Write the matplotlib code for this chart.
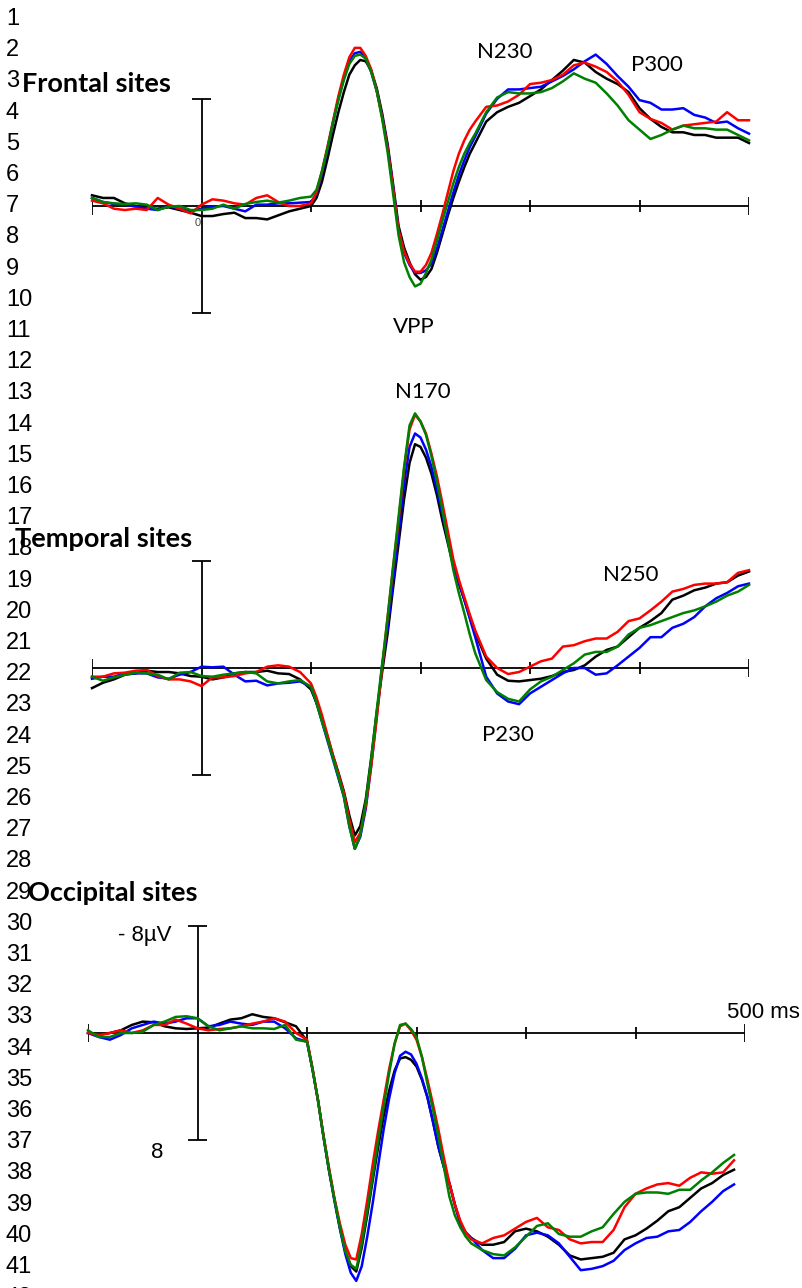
import matplotlib
matplotlib.use("Agg")
import matplotlib.pyplot as plt

# time grid (ms): 10 ms steps, 5 ms steps through the fast components
times = list(range(-100, 100, 10)) + list(range(100, 250, 5)) + list(range(250, 510, 10))
times_occ = list(range(-100, 100, 10)) + list(range(100, 250, 5)) + list(range(250, 500, 10))

# amplitudes in microvolts (negative plotted up)
frontal_red = [-0.4, -0.2, 0.2, 0.3, 0.2, 0.3, -0.6, -0.1, 0.2, 0.55, -0.1, -0.5, -0.4, -0.2, -0.1, -0.6, -0.8, -0.3, 0.0, 0.0,
               -0.2, -1.0, -2.6, -4.4, -6.3, -8.2, -9.8, -11.1, -11.8, -11.8, -11.2, -10.2, -8.6, -6.6, -4.3,
               -1.3, 1.8, 3.4, 4.3, 4.9, 4.9, 4.4, 3.5, 2.1, 0.6, -1.0, -2.6, -3.9, -4.9, -5.7,
               -6.3, -7.4, -7.5, -7.8, -8.3, -9.1, -9.2, -9.4, -9.8, -10.5, -10.7, -10.4, -10.0, -9.3, -8.3, -7.0,
               -6.5, -6.2, -5.7, -6.0, -6.1, -6.2, -6.3, -7.0, -6.4, -6.4]
frontal_blue = [-0.6, -0.3, -0.15, -0.1, 0.05, 0.2, 0.3, 0.0, 0.2, 0.4, 0.2, 0.05, 0.0, 0.2, 0.4, -0.1, -0.1, -0.2, -0.2, -0.25,
                -0.3, -0.9, -2.4, -4.2, -6.2, -8.0, -9.5, -10.8, -11.4, -11.5, -11.0, -10.0, -8.6, -6.7, -4.4,
                -1.4, 1.8, 3.5, 4.4, 5.0, 5.0, 4.8, 4.3, 3.2, 1.8, 0.4, -1.0, -2.3, -3.4, -4.4,
                -5.2, -6.9, -8.0, -8.7, -8.7, -8.8, -8.9, -9.3, -9.7, -10.2, -10.8, -11.3, -10.6, -9.7, -8.9, -7.9,
                -7.7, -7.2, -7.2, -7.3, -6.8, -6.6, -6.2, -6.3, -5.8, -5.4]
frontal_green = [-0.6, -0.3, -0.2, -0.15, -0.2, -0.1, 0.3, 0.05, 0.0, 0.3, 0.3, 0.2, -0.1, 0.2, -0.15, -0.3, -0.4, -0.25, -0.4, -0.6,
                 -0.7, -1.2, -2.6, -4.3, -6.2, -7.9, -9.4, -10.6, -11.2, -11.3, -11.0, -10.0, -8.6, -6.5, -4.0,
                 -0.9, 2.2, 4.2, 5.3, 6.0, 5.8, 5.0, 4.0, 2.6, 1.1, -0.3, -1.7, -2.9, -3.9, -4.7,
                 -5.4, -7.0, -8.1, -8.5, -8.4, -8.4, -8.5, -8.8, -9.3, -9.9, -9.5, -9.2, -8.4, -7.5, -6.4, -5.7,
                 -5.0, -5.3, -5.7, -6.0, -5.8, -5.8, -5.7, -5.7, -5.3, -4.9]
frontal_black = [-0.8, -0.6, -0.6, -0.2, 0.0, 0.2, 0.2, 0.1, 0.3, 0.5, 0.75, 0.75, 0.6, 0.5, 0.9, 0.9, 1.0, 0.7, 0.4, 0.2,
                 0.0, -0.6, -1.8, -3.5, -5.3, -7.0, -8.5, -9.8, -10.5, -10.9, -10.8, -10.1, -8.8, -6.9, -4.6,
                 -1.6, 1.5, 3.1, 4.2, 5.1, 5.5, 5.3, 4.7, 3.5, 2.1, 0.7, -0.6, -1.8, -2.9, -3.9,
                 -4.7, -6.3, -7.0, -7.4, -7.7, -8.2, -8.7, -9.4, -10.1, -10.9, -10.7, -10.0, -9.5, -9.1, -8.5, -7.3,
                 -6.5, -5.9, -5.5, -5.5, -5.3, -5.3, -5.1, -5.1, -5.1, -4.7]

temporal_red = [0.65, 0.65, 0.4, 0.35, 0.2, 0.15, 0.6, 0.85, 0.85, 1.0, 1.35, 0.7, 0.7, 0.6, 0.4, 0.3, -0.1, -0.2, -0.1, 0.3,
                1.15, 2.2, 3.5, 5.0, 6.5, 7.9, 9.3, 11.3, 13.0, 12.3, 10.3, 7.3, 3.8, 0.0, -3.8,
                -7.5, -11.0, -14.8, -17.8, -18.9, -18.4, -17.5, -16.0, -14.3, -12.3, -10.2, -8.1, -6.6, -5.3, -4.0,
                -2.8, -0.85, 0.0, 0.45, 0.3, -0.1, -0.5, -0.7, -1.6, -1.7, -2.0, -2.2, -2.2, -2.7, -3.5, -3.7,
                -4.3, -4.95, -5.7, -5.9, -6.2, -6.3, -6.3, -6.4, -7.1, -7.3]
temporal_blue = [0.8, 0.65, 0.65, 0.4, 0.4, 0.4, 0.7, 0.8, 0.5, 0.3, -0.1, -0.05, -0.1, 0.5, 1.0, 0.95, 1.3, 1.15, 1.1, 1.0,
                 1.4, 2.6, 4.0, 5.4, 6.8, 8.2, 9.6, 11.8, 13.5, 12.6, 10.5, 7.3, 3.6, -0.2, -3.0,
                 -6.5, -10.0, -13.7, -16.5, -17.5, -17.2, -16.3, -15.0, -13.3, -11.5, -9.6, -7.8, -6.4, -5.1, -3.7,
                 -2.3, 0.65, 1.9, 2.5, 2.7, 1.9, 1.4, 0.9, 0.4, 0.0, 0.0, 0.5, 0.4, -0.2, -0.85, -1.5,
                 -2.3, -2.3, -3.0, -3.3, -3.8, -4.6, -5.2, -5.6, -6.1, -6.3]
temporal_green = [0.65, 0.95, 0.7, 0.5, 0.35, 0.4, 0.5, 0.85, 0.35, 0.3, 0.6, 0.65, 0.5, 0.4, 0.3, 0.4, 1.0, 1.15, 1.0, 0.9,
                  1.4, 2.6, 4.0, 5.3, 6.7, 8.1, 9.6, 11.8, 13.5, 12.5, 10.0, 6.8, 3.2, -0.3, -3.8,
                  -7.6, -11.3, -15.0, -18.1, -19.0, -18.4, -17.4, -15.8, -13.9, -11.8, -9.5, -7.3, -5.6, -4.1, -2.5,
                  -1.1, 0.9, 1.8, 2.3, 2.5, 1.6, 1.0, 0.65, 0.15, -0.35, -1.0, -1.2, -1.2, -1.6, -2.5, -3.0,
                  -3.2, -3.5, -3.8, -4.1, -4.3, -4.6, -4.95, -5.4, -5.7, -6.2]
temporal_black = [1.5, 1.1, 0.85, 0.5, 0.4, 0.2, 0.3, 0.3, 0.4, 0.6, 0.65, 0.85, 0.7, 0.4, 0.3, 0.3, 0.2, 0.4, 0.45, 0.85,
                  1.6, 2.6, 3.8, 5.1, 6.5, 7.8, 9.2, 11.0, 12.5, 11.8, 9.8, 6.7, 3.3, 0.3, -2.6,
                  -6.0, -9.3, -12.6, -15.3, -16.7, -16.5, -15.7, -14.5, -12.9, -11.0, -9.3, -7.6, -6.3, -5.1, -3.8,
                  -2.6, -0.7, 0.5, 0.95, 1.0, 0.9, 0.8, 0.6, 0.3, 0.15, -0.2, -0.85, -1.35, -1.6, -2.3, -3.0,
                  -3.5, -4.1, -5.1, -5.4, -5.8, -6.0, -6.3, -6.4, -6.9, -7.2]

occipital_red = [0.0, 0.15, 0.0, -0.2, 0.0, -0.2, -0.6, -0.6, -1.0, -0.7, -0.35, -0.2, -0.3, -0.35, -0.5, -0.7, -0.85, -1.1, -0.85, 0.0,
                 0.5, 2.6, 5.0, 7.6, 10.0, 12.3, 14.2, 15.8, 16.8, 16.9, 15.0, 12.5, 9.8, 7.3, 5.0,
                 2.7, 0.8, -0.5, -0.7, -0.2, 0.5, 1.8, 3.5, 5.3, 7.2, 9.3, 11.2, 12.8, 14.0, 14.9,
                 15.4, 15.7, 15.3, 15.1, 14.6, 14.1, 13.8, 14.5, 14.7, 15.4, 15.7, 15.6, 15.6, 14.7, 13.0, 12.0,
                 11.6, 11.3, 11.2, 11.4, 10.8, 10.4, 10.5, 10.4, 9.5]
occipital_blue = [0.0, 0.3, 0.5, 0.15, -0.35, -0.6, -0.85, -0.7, -0.85, -1.1, -1.1, -0.5, -0.6, -0.85, -0.7, -0.6, -0.85, -0.85, -0.35, 0.4,
                  0.65, 2.7, 5.0, 7.7, 10.2, 12.5, 14.6, 16.5, 17.9, 18.5, 17.4, 15.2, 12.7, 9.9, 7.2,
                  4.9, 3.0, 1.7, 1.4, 1.6, 2.3, 3.4, 4.8, 6.6, 8.5, 10.0, 11.2, 12.8, 14.2, 14.9,
                  15.3, 16.2, 16.8, 16.8, 16.1, 15.1, 14.9, 15.1, 15.7, 16.7, 17.7, 17.6, 17.4, 17.0, 16.2, 15.7,
                  15.3, 15.2, 14.8, 14.7, 14.1, 13.3, 12.6, 11.8, 11.3]
occipital_green = [-0.2, 0.3, 0.3, 0.0, 0.0, -0.1, -0.6, -0.85, -1.2, -1.25, -1.1, -0.5, -0.2, -0.35, -0.5, -0.35, -0.35, -0.3, -0.6, 0.5,
                   0.65, 2.7, 5.0, 7.7, 10.2, 12.4, 14.5, 16.3, 17.3, 17.6, 15.7, 13.3, 10.7, 8.0, 5.5,
                   3.0, 0.8, -0.6, -0.7, -0.3, 0.3, 1.8, 3.8, 5.7, 7.7, 10.0, 12.2, 13.6, 14.5, 15.2,
                   15.7, 16.2, 16.5, 16.6, 16.0, 15.2, 14.4, 14.2, 15.0, 15.2, 15.2, 14.8, 14.5, 13.5, 12.6, 12.0,
                   11.9, 11.9, 12.0, 11.7, 11.7, 11.0, 10.4, 9.7, 9.1]
occipital_black = [0.0, 0.15, 0.0, -0.2, -0.6, -0.85, -0.8, -0.5, -0.35, -0.3, -0.35, -0.4, -0.7, -1.0, -1.1, -1.4, -1.2, -1.1, -0.8, -0.5,
                   0.6, 2.7, 5.0, 7.7, 10.2, 12.4, 14.5, 16.3, 17.4, 17.8, 16.0, 13.6, 11.0, 8.5, 6.2,
                   4.3, 2.8, 1.9, 1.8, 2.0, 2.5, 3.5, 4.8, 6.6, 8.5, 10.0, 11.2, 12.8, 14.2, 14.9,
                   15.3, 15.8, 15.8, 15.6, 14.8, 14.6, 14.8, 15.2, 15.8, 16.6, 16.9, 16.8, 16.7, 16.4, 15.4, 15.1,
                   14.6, 14.0, 13.3, 13.0, 12.3, 11.6, 11.2, 10.6, 10.2]

tick_times = [100, 200, 300, 400]
end_times = [-100, 500]
colors = ["black", "blue", "red", "#008000"]

W, H = 802, 1288
SCALE = 13.4  # px per microvolt
LIM = 22

fig = plt.figure(figsize=(W / 100, H / 100), dpi=100)


def fx(x):
    return x / W


def fy(y):
    return 1 - y / H


def panel(x0, x1, base, series, t):
    ax = fig.add_axes([fx(x0), fy(base + LIM * SCALE), (x1 - x0) / W, 2 * LIM * SCALE / H])
    ax.set_xlim(-100, 500)
    ax.set_ylim(LIM, -LIM)
    ax.axis("off")
    ax.patch.set_alpha(0)
    ax.axhline(0, color="black", lw=1.3)
    ax.vlines(tick_times, -0.45, 0.45, color="black", lw=1.3)
    ax.vlines(end_times, -0.7, 0.7, color="black", lw=1.3)
    ax.vlines(0, -8, 8, color="black", lw=1.3)
    ax.hlines([-8, 8], -9, 9, color="black", lw=1.3)
    for vals, c in zip(series, colors):
        ax.plot(t, vals, color=c, lw=1.8, clip_on=False, solid_joinstyle="round")
    return ax


panel(92, 749, 206, [frontal_black, frontal_blue, frontal_red, frontal_green], times)
panel(92, 749, 668, [temporal_black, temporal_blue, temporal_red, temporal_green], times)
panel(88, 745, 1033, [occipital_black, occipital_blue, occipital_red, occipital_green], times_occ)

# line numbers down the margin
for n in range(1, 43):
    fig.text(fx(6), fy(19 + (n - 1) * 31.2), str(n), ha="left", va="center",
             fontsize=17, family="Liberation Sans")

title_kw = dict(ha="left", va="baseline", fontsize=19.5, fontweight="bold", family="Lato")
fig.text(fx(22), fy(92), "Frontal sites", **title_kw)
fig.text(fx(15), fy(547), "Temporal sites", **title_kw)
fig.text(fx(28), fy(901), "Occipital sites", **title_kw)

peak_kw = dict(ha="center", va="center", fontsize=16, family="Lato")
fig.text(fx(505), fy(52), "N230", **peak_kw)
fig.text(fx(657), fy(65), "P300", **peak_kw)
fig.text(fx(414), fy(327), "VPP", **peak_kw)
fig.text(fx(423), fy(392), "N170", **peak_kw)
fig.text(fx(631), fy(575), "N250", **peak_kw)
fig.text(fx(508), fy(735), "P230", **peak_kw)

fig.text(fx(198), fy(223), "0", ha="center", va="center", fontsize=8, color="#444444",
         family="Liberation Sans")
fig.text(fx(171), fy(935), "- 8µV", ha="right", va="center", fontsize=16, family="Liberation Sans")
fig.text(fx(157), fy(1152), "8", ha="center", va="center", fontsize=16, family="Liberation Sans")
fig.text(fx(800), fy(1013), "500 ms", ha="right", va="center", fontsize=16, family="Liberation Sans")

fig.savefig("out.png", dpi=100)
